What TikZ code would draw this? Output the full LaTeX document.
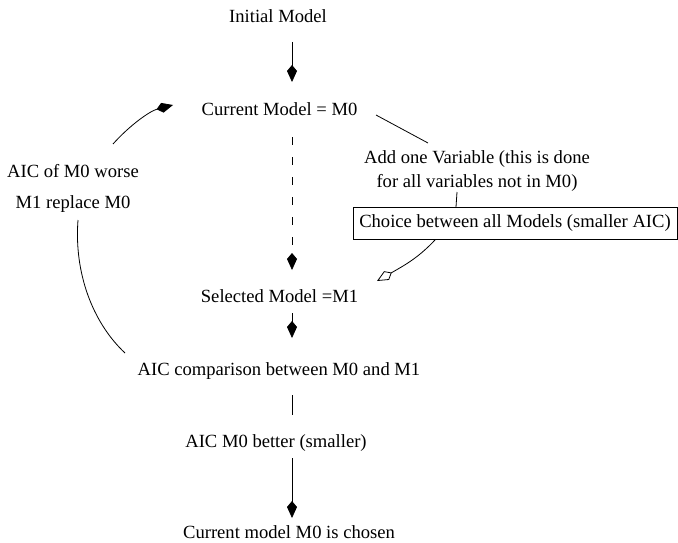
\documentclass[tikz,border=0pt]{standalone}
\usepackage{fontspec}
\setmainfont{Liberation Serif}
\usetikzlibrary{arrows.meta}
\tikzset{
  txt/.style     = {inner sep=0pt, anchor=base, font=\fontsize{18.6}{24}\selectfont},
  twoline/.style = {inner sep=0pt, anchor=center, align=center},
  choicebox/.style = {rectangle, draw, line width=0.8pt, inner sep=0pt,
                  minimum width=324pt, minimum height=32pt,
                  font=\fontsize{18.6}{24}\selectfont},
  link/.style    = {line width=0.8pt},
  flow/.style    = {-{Kite[length=17pt, width=10pt, inset=6pt]}, line width=0.8pt},
  oflow/.style   = {-{Kite[open, length=17pt, width=10pt, inset=6pt]}, line width=0.8pt},
  dashlink/.style= {dash pattern=on 8pt off 12pt},
}

\begin{document}
\begin{tikzpicture}[x=1pt, y=-1pt]
  \useasboundingbox (0,0) rectangle (678,543);
  % main column
  \node[txt] (init)   at (278,23)  {Initial Model};
  \node[txt] (cur)    at (279.5,115) {Current Model = M0};
  \node[txt] (sel)    at (279.5,302) {Selected Model =M1};
  \node[txt] (cmp)    at (279,375) {AIC comparison between M0 and M1};
  \node[txt] (better) at (276,447) {AIC M0 better (smaller)};
  \node[txt] (chosen) at (289,538) {Current model M0 is chosen};
  % side labels
  \node[twoline, font=\fontsize{18.6}{24}\selectfont] (add) at (477,171)
    {Add one Variable (this is done\\for all variables not in M0)};
  \node[choicebox] (choice) at (515,223) {Choice between all Models (smaller AIC)};
  \node[twoline, font=\fontsize{18.6}{31}\selectfont] (worse) at (73,188)
    {AIC of M0 worse\\M1 replace M0};
  % end points
  \coordinate (a1) at (292,42);  \coordinate (b1) at (292,82);
  \coordinate (a2) at (292,137); \coordinate (b2) at (292,270);
  \coordinate (a3) at (292,313); \coordinate (b3) at (292,338);
  \coordinate (a4) at (292,395); \coordinate (b4) at (292,415);
  \coordinate (a5) at (292,458); \coordinate (b5) at (292,518);
  \coordinate (c1) at (376,115); \coordinate (c2) at (428,143);
  \coordinate (d1) at (457,192); \coordinate (d2) at (456,207);
  \coordinate (e1) at (435,240); \coordinate (e2) at (377,281);
  \coordinate (f1) at (125,353); \coordinate (f2) at (78,220);
  \coordinate (g1) at (113,144); \coordinate (g2) at (173,105);

  \draw[flow] (a1) -- (b1);
  \draw[flow, dashlink] (a2) -- (b2);
  \draw[flow] (a3) -- (b3);
  \draw[link] (a4) -- (b4);
  \draw[flow] (a5) -- (b5);
  \draw[link] (c1) -- (c2);
  \draw[link] (d1) -- (d2);
  \draw[oflow] (e1) .. controls (418,258) and (405,265) .. (e2);
  \draw[link] (f1) .. controls (92,322) and (74,272) .. (f2);
  \draw[flow] (g1) .. controls (130,125) and (150,111) .. (g2);
\end{tikzpicture}
\end{document}
